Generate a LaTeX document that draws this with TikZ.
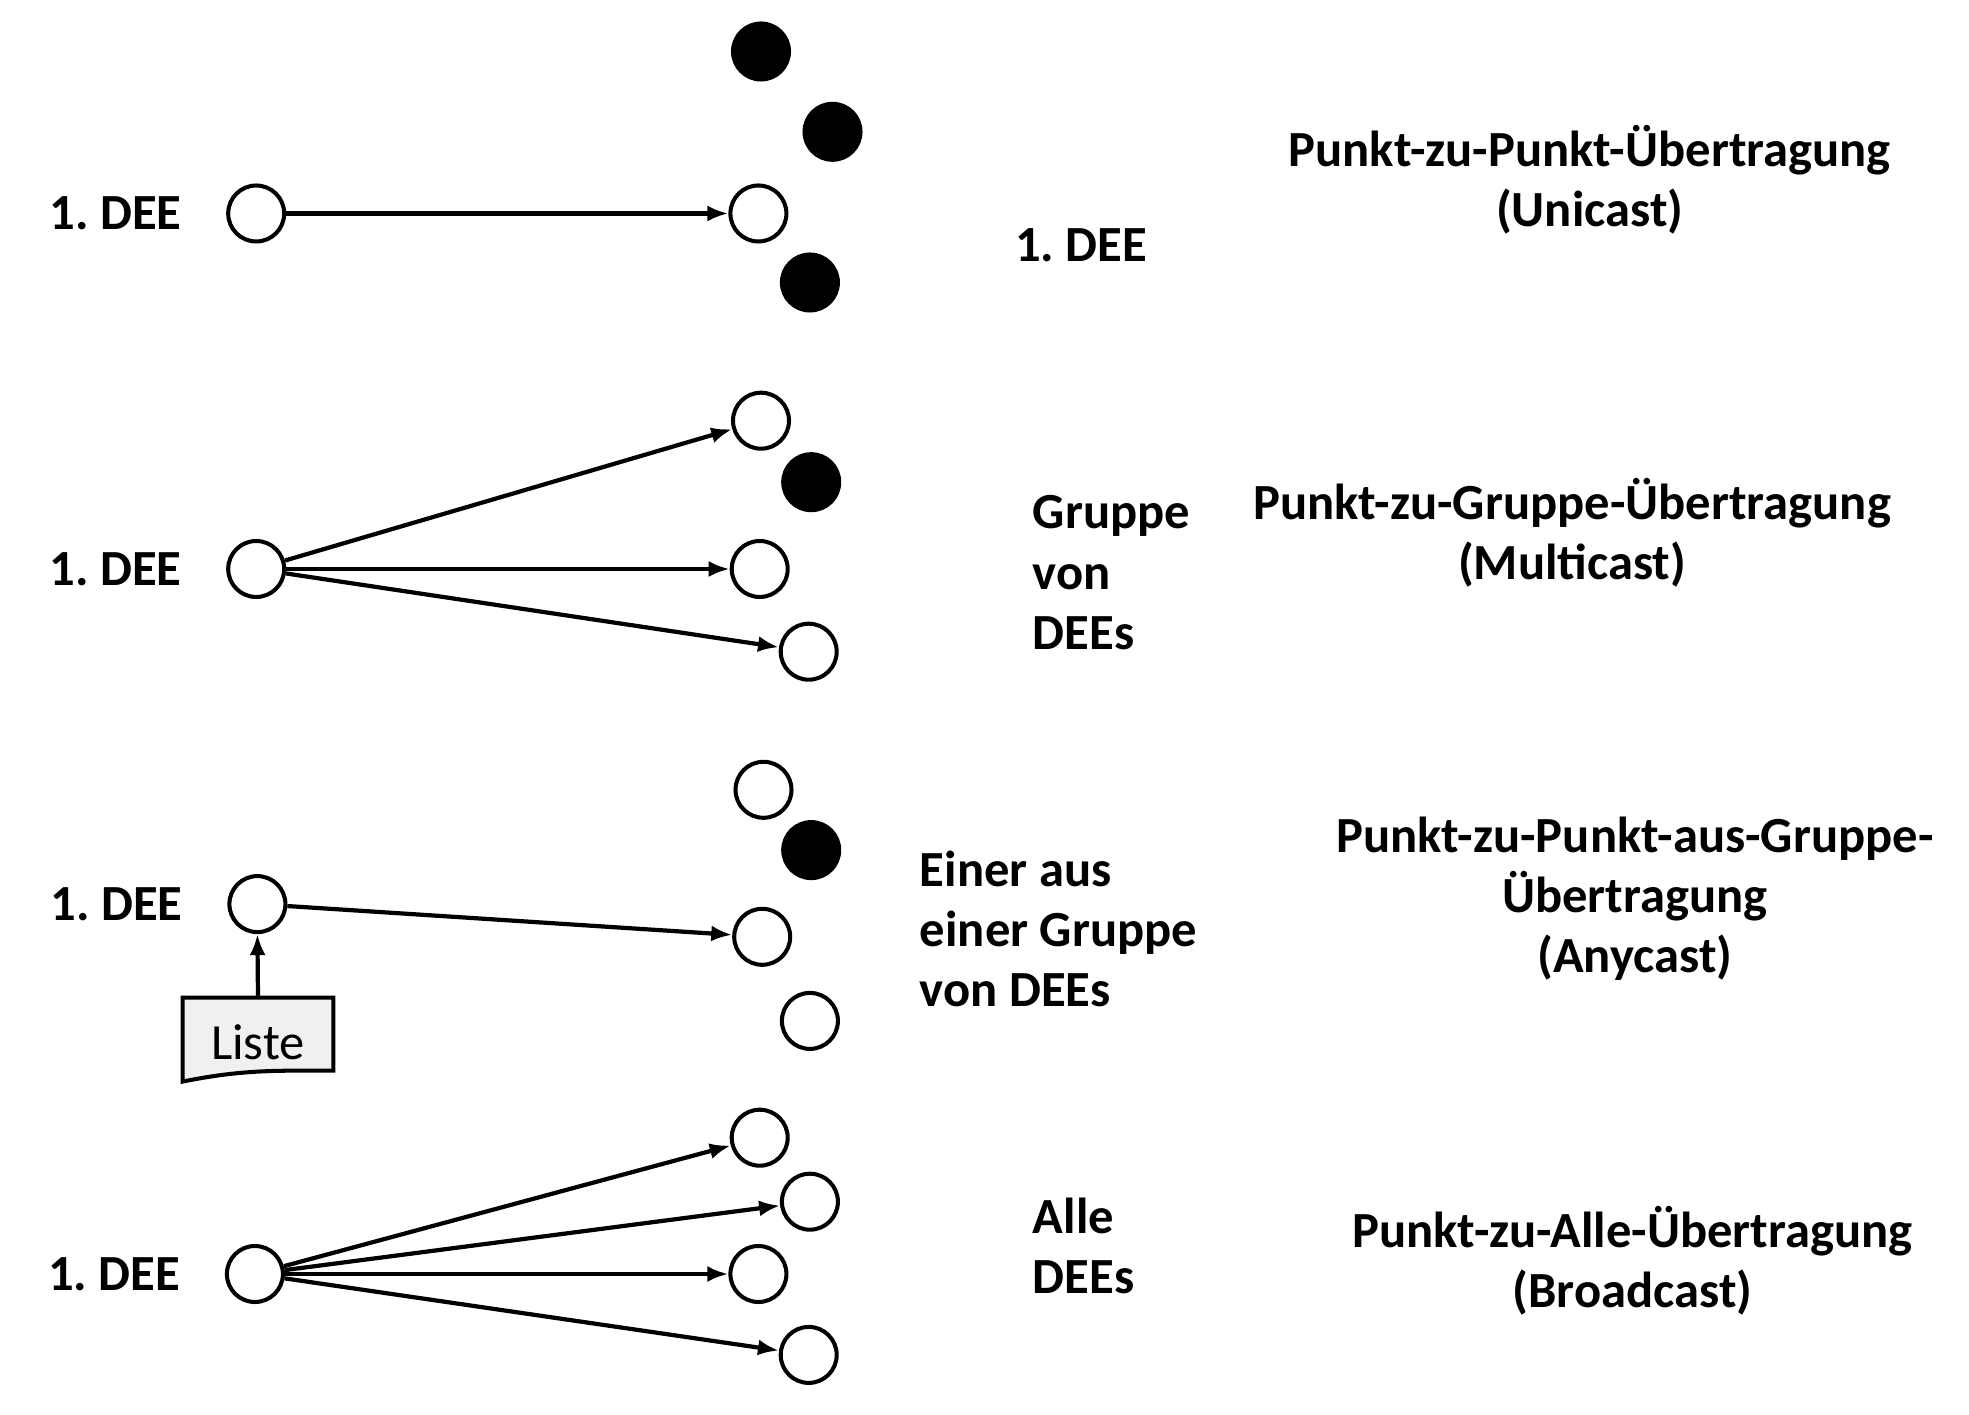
\documentclass[tikz,border=0pt]{standalone}
\usepackage{fontspec}
\setmainfont{Carlito}
\usetikzlibrary{arrows.meta, positioning}
\frenchspacing

\begin{document}
\begin{tikzpicture}[>={Latex[length=2.1mm,width=1.6mm]},
    dee/.style={circle, draw, line width=1.15pt, minimum size=5.6mm, inner sep=0pt, fill=white},
    aus/.style={dee, fill=black},
    deename/.style={font=\bfseries\fontsize{14.4}{17.1}\selectfont, inner sep=0pt},
    txt/.style={font=\bfseries\fontsize{14.4}{17.1}\selectfont, align=left, anchor=west, inner sep=0pt},
    titel/.style={font=\bfseries\fontsize{14.4}{17.1}\selectfont, align=center, inner sep=0pt},
    pfeil/.style={->, line width=1.2pt}]
    \useasboundingbox (0,0) rectangle (19.69,14.14);

    \node[dee] at (2.562,12.005) (s1) {};
    \node[deename, left=4.4mm of s1] (l1) {1. DEE};
    \node[aus] at (7.610,13.625) (x11) {};
    \node[aus] at (8.325,12.822) (x12) {};
    \node[dee] at (7.584,12.005) (u1) {};
    \node[aus] at (8.099,11.315) (x13) {};
    \draw[pfeil] (s1) -- (u1);
    \node[txt] at (10.146,11.691) (t1) {1. DEE};
    \node[titel] at (15.897,12.345) (h1) {Punkt-zu-Punkt-Übertragung\\(Unicast)};

    \node[dee] at (2.562,8.45) (s2) {};
    \node[deename, left=4.4mm of s2] (l2) {1. DEE};
    \node[dee] at (7.610,9.933) (m1) {};
    \node[aus] at (8.112,9.318) (x21) {};
    \node[dee] at (7.597,8.45) (m2) {};
    \node[dee] at (8.087,7.623) (m3) {};
    \draw[pfeil] (s2) -- (m1);
    \draw[pfeil] (s2) -- (m2);
    \draw[pfeil] (s2) -- (m3);
    \node[txt] at (10.322,8.414) (t2) {Gruppe\\von\\DEEs};
    \node[titel] at (15.721,8.816) (h2) {Punkt-zu-Gruppe-Übertragung\\(Multicast)};

    \node[dee] at (2.574,5.099) (s3) {};
    \node[deename, left=4.4mm of s3] (l3) {1. DEE};
    \node[dee] at (7.635,6.242) (a1) {};
    \node[aus] at (8.112,5.639) (x31) {};
    \node[dee] at (7.622,4.772) (a2) {};
    \node[dee] at (8.099,3.931) (a3) {};
    \draw[pfeil] (s3) -- (a2);
    \node[minimum width=14.95mm, minimum height=7.16mm, inner sep=0pt] at (2.58,3.799) (liste) {};
    \draw[line width=1.15pt, fill=gray!12] (liste.north west) -- (liste.north east) -- (liste.south east)
        .. controls +(-0.6,0) and +(0.6,0.12) .. ([yshift=-1.1mm]liste.south west) -- cycle;
    \node[font=\fontsize{14.4}{17}\selectfont] at ([yshift=-0.8mm]liste.center) {Liste};
    \draw[pfeil] (liste.north) -- (s3.south);
    \node[txt] at (9.192,4.848) (t3) {Einer aus\\einer Gruppe\\von DEEs};
    \node[titel] at (16.349,5.149) (h3) {Punkt-zu-Punkt-aus-Gruppe-\\Übertragung\\(Anycast)};

    \node[dee] at (2.549,1.40) (s4) {};
    \node[deename, left=4.4mm of s4] (l4) {1. DEE};
    \node[dee] at (7.597,2.763) (b1) {};
    \node[dee] at (8.099,2.123) (b2) {};
    \node[dee] at (7.584,1.40) (b3) {};
    \node[dee] at (8.087,0.591) (b4) {};
    \foreach \z in {b1,b2,b3,b4}
        \draw[pfeil] (s4) -- (\z);
    \node[txt] at (10.322,1.684) (t4) {Alle\\DEEs};
    \node[titel] at (16.324,1.533) (h4) {Punkt-zu-Alle-Übertragung\\(Broadcast)};
\end{tikzpicture}
\end{document}
